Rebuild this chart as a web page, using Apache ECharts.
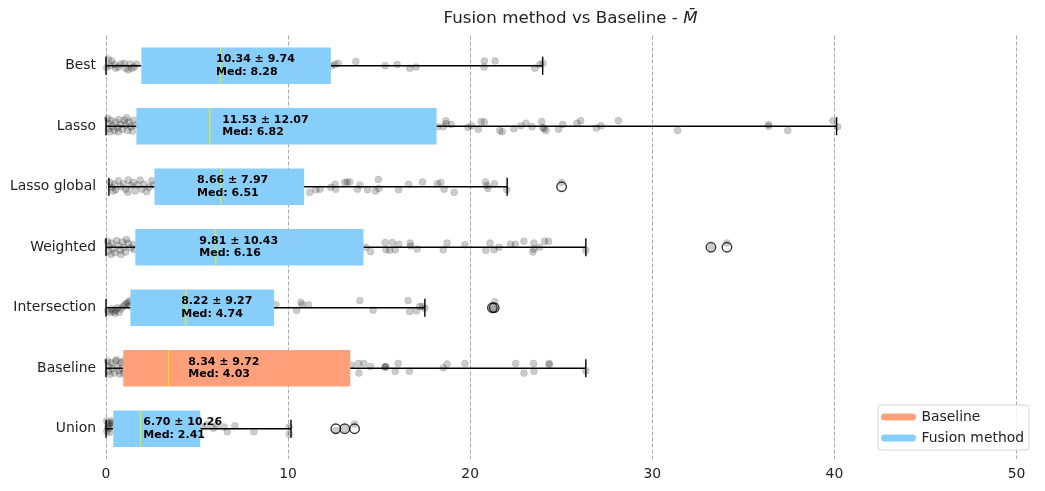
<!DOCTYPE html>
<html><head><meta charset="utf-8">
<script src="https://cdn.jsdelivr.net/npm/echarts@6/dist/echarts.min.js"></script>
<style>html,body{margin:0;padding:0;background:#fff}#c{width:1045px;height:491px}</style>
</head><body><div id="c"></div>
<script>
// ---------- data ----------
const categories = ['Best', 'Lasso', 'Lasso global', 'Weighted', 'Intersection', 'Baseline', 'Union'];
const groups = ['Fusion method', 'Fusion method', 'Fusion method', 'Fusion method', 'Fusion method', 'Baseline', 'Fusion method'];
const whiskerLow  = [0, 0, 0.16, 0, 0, 0, 0];
const q1          = [1.94, 1.67, 2.66, 1.61, 1.34, 0.95, 0.40];
const medianLine  = [6.30, 5.70, 6.30, 6.03, 4.38, 3.44, 1.90];
const q3          = [12.35, 18.15, 10.88, 14.14, 9.23, 13.41, 5.18];
const whiskerHigh = [23.98, 40.12, 22.03, 26.35, 17.51, 26.35, 10.16];
const meanText = ['10.34', '11.53', '8.66', '9.81', '8.22', '8.34', '6.70'];
const stdText  = ['9.74', '12.07', '7.97', '10.43', '9.27', '9.72', '10.26'];
const medText  = ['8.28', '6.82', '6.51', '6.16', '4.74', '4.03', '2.41'];
const labelX   = [6.04, 6.38, 5.00, 5.12, 4.13, 4.52, 2.05];
const xTicks = [0, 10, 20, 30, 40, 50];
// outliers: [value, category index]
const outliers = [[25.02, 2], [33.22, 3], [34.10, 3], [21.22, 4], [21.32, 4], [12.62, 6], [13.11, 6], [13.65, 6]];
// individual observations: [value, vertical jitter in category units]
const ptsBest = [[0.13,-0.11],[0.31,-0.08],[0.22,0],[0.46,-0.02],[0.53,0.04],[0.68,0.02],[0.82,-0.03],[1.0,-0.04],[1.08,0.04],[1.22,0.07],[1.32,-0.03],[1.41,0.04],[1.55,0.02],[1.68,-0.03],[0.04,0.03],
  [12.39,0],[12.57,-0.02],[12.75,-0.04],[13.72,-0.07],[15.33,0],[15.99,-0.02],[16.68,0.04],[17.03,0.02],[20.78,-0.08],[20.76,0.02],[21.37,-0.08],[23.55,0.04],[23.82,-0.02],[24.0,-0.04]];
const ptsLasso = [[0.09,-0.13],[0.16,-0.04],[0.13,0.04],[0.27,-0.10],[0.35,0],[0.46,0.07],[0.53,-0.07],[0.64,0.02],[0.71,-0.11],[0.82,-0.03],[0.90,0.05],[1.00,-0.10],[1.08,-0.02],[1.19,0.07],[1.26,-0.07],[1.37,0.01],[1.50,-0.10],[1.59,-0.02],[0.22,0.09],[0.68,0.09],[1.13,-0.14],[1.45,0.08],
  [18.2,0.01],[18.52,0.01],[18.67,-0.09],[18.67,-0.04],[18.96,-0.03],[19.88,0.02],[20.07,-0.01],[20.45,0.05],[20.6,-0.08],[20.78,-0.07],[21.62,0.07],[21.76,0.09],[22.4,0.04],[22.79,-0.01],[23.07,-0.05],[23.4,0.01],[23.93,-0.08],[23.99,0.02],[24.05,0.04],[24.16,0.07],[24.86,0.05],[25.08,-0.03],[25.86,-0.05],[26.07,-0.09],[26.93,0.03],[27.19,-0.01],[28.14,-0.09],[31.39,0.07],[36.39,-0.03],[36.39,0],[37.44,0.07],[39.92,-0.09],[40.18,0.01]];
const ptsLassoGlobal = [[0.22,-0.07],[0.31,0.01],[0.46,-0.04],[0.53,0.05],[0.68,-0.10],[0.82,0],[0.95,-0.05],[1.08,0.04],[1.22,-0.11],[1.37,-0.02],[1.50,-0.07],[1.59,0.07],[1.74,-0.03],[1.87,-0.11],[1.96,0.04],[2.10,-0.04],[2.23,0.08],[2.36,0.01],[2.51,-0.10],[2.60,-0.03],[0.40,0.07],[1.19,0.09],
  [11.19,0.09],[11.52,0.05],[11.76,0.04],[12.34,0.01],[12.58,-0.04],[12.62,0.04],[13.11,-0.07],[13.24,-0.08],[13.38,-0.08],[13.81,0.04],[13.95,-0.03],[14.36,0.05],[14.80,0.07],[14.96,-0.12],[14.98,0.03],[16.07,0.05],[16.62,-0.04],[17.38,-0.08],[18.20,-0.05],[18.38,-0.07],[18.57,0.04],[19.12,0.09],[20.84,-0.08],[20.92,-0.02],[20.98,0.03],[21.33,-0.05],[22.01,0.05],[25.02,-0.07]];
const ptsWeighted = [[0.09,-0.10],[0.16,-0.02],[0.13,0.07],[0.31,-0.07],[0.40,0.02],[0.49,0.09],[0.59,-0.11],[0.68,-0.03],[0.77,0.05],[0.90,-0.09],[1.00,0],[1.08,0.08],[1.22,-0.07],[1.37,0.01],[1.50,-0.04],[0.27,0.12],[0.82,0.12],[1.13,-0.13],[1.55,0.04],
  [14.26,0],[14.53,0.07],[15.33,-0.08],[15.37,0.04],[15.57,0.05],[15.72,-0.08],[15.88,0.04],[16.07,-0.05],[16.70,-0.07],[16.74,-0.02],[17.09,0.03],[18.52,0.04],[18.73,-0.07],[19.71,-0.04],[20.86,0.05],[21.09,-0.07],[21.31,0.04],[21.58,0],[22.21,-0.05],[22.48,-0.05],[22.95,-0.10],[23.44,0.08],[23.50,-0.07],[23.50,0.03],[23.81,0],[24.08,-0.10],[24.30,-0.10],[26.35,0.05],[33.22,0],[34.10,-0.07]];
const ptsIntersection = [[0.09,0.05],[0.22,0.08],[0.31,0.02],[0.40,0.06],[0.53,0.04],[0.64,0],[0.71,0.08],[0.82,0.02],[0.95,-0.02],[1.04,-0.05],[1.13,-0.07],[1.22,-0.09],[1.30,-0.03],[1.32,-0.12],[0.49,0.09],
  [9.33,-0.05],[10.47,0.04],[10.70,-0.09],[10.78,-0.05],[11.12,-0.05],[13.94,-0.12],[14.67,0.04],[16.59,-0.12],[16.68,0.06],[17.05,0.05],[17.23,-0.02],[17.38,-0.02],[17.51,0.01],[21.35,-0.10],[21.25,0],[21.30,0.02]];
const ptsBaseline = [[0.09,-0.12],[0.16,-0.03],[0.13,0.05],[0.27,-0.09],[0.35,0],[0.46,0.08],[0.53,-0.12],[0.64,-0.03],[0.71,0.04],[0.82,-0.09],[0.90,0],[0.97,0.08],[0.22,0.10],[0.77,0.10],[0.59,-0.14],[0.95,-0.12],
  [13.48,-0.05],[13.87,-0.08],[13.89,0.08],[14.16,-0.08],[14.53,-0.03],[15.33,-0.02],[15.33,-0.02],[15.37,-0.03],[15.88,0.05],[16.05,-0.08],[16.66,0.05],[18.52,-0.01],[18.73,-0.07],[19.71,-0.08],[22.50,-0.08],[22.95,0.08],[23.48,-0.08],[23.50,0.05],[24.32,-0.08],[24.36,-0.06],[26.35,0.04]];
const ptsUnion = [[0.04,-0.13],[0.13,-0.08],[0.09,-0.02],[0.24,-0.10],[0.27,-0.05],[0.35,-0.09],[0.16,0],[0.31,-0.13],[0.05,0.04],[0.20,0.06],
  [5.24,-0.03],[5.55,-0.07],[5.89,-0.01],[6.07,-0.05],[6.48,-0.03],[6.66,0.05],[7.08,-0.05],[8.12,0.05],[10.06,-0.03],[10.06,0.09],[12.62,0.03],[13.11,0],[13.65,-0.08]];
const pointsByCategory = [ptsBest, ptsLasso, ptsLassoGlobal, ptsWeighted, ptsIntersection, ptsBaseline, ptsUnion];

// ---------- build ----------
const colors = { 'Baseline': '#FFA07A', 'Fusion method': '#87CEFA' };
const FONT = '"DejaVu Sans", sans-serif';

const scatterData = [];
pointsByCategory.forEach((arr, i) => arr.forEach(p => scatterData.push([p[0], i + p[1]])));

function boxRows(group) {
  const rows = [];
  categories.forEach((c, i) => {
    if (groups[i] === group) rows.push([i, whiskerLow[i], q1[i], medianLine[i], q3[i], whiskerHigh[i]]);
  });
  return rows;
}

function renderBox(params, api) {
  const i = api.value(0);
  const lo = api.coord([api.value(1), i]);
  const b1 = api.coord([api.value(2), i]);
  const md = api.coord([api.value(3), i]);
  const b3 = api.coord([api.value(4), i]);
  const hi = api.coord([api.value(5), i]);
  const half = Math.abs(api.size([0, 0.3])[1]);
  const cap = Math.abs(api.size([0, 0.15])[1]);
  const ls = { stroke: '#000', lineWidth: 1.4 };
  const y = lo[1];
  return {
    type: 'group',
    children: [
      { type: 'line', shape: { x1: lo[0], y1: y, x2: b1[0], y2: y }, style: ls },
      { type: 'line', shape: { x1: b3[0], y1: y, x2: hi[0], y2: y }, style: ls },
      { type: 'line', shape: { x1: lo[0], y1: y - cap, x2: lo[0], y2: y + cap }, style: ls },
      { type: 'line', shape: { x1: hi[0], y1: y - cap, x2: hi[0], y2: y + cap }, style: ls },
      { type: 'rect', shape: { x: b1[0], y: y - half, width: b3[0] - b1[0], height: 2 * half }, style: { fill: api.visual('color') } },
      { type: 'line', shape: { x1: md[0], y1: y - half, x2: md[0], y2: y + half }, style: { stroke: '#f0f000', lineWidth: 1 } }
    ]
  };
}

const labelData = categories.map((c, i) => [i, labelX[i]]);

const chart = echarts.init(document.getElementById('c'), null, { renderer: 'canvas' });
chart.setOption({
  animation: false,
  backgroundColor: '#fff',
  graphic: [{
    type: 'text', x: 570.5, y: 19, z: 100,
    style: {
      text: 'Fusion method vs Baseline - {m|M\u0304}',
      rich: { m: { fontStyle: 'italic', fontSize: 16.7, fontFamily: FONT, fill: '#222' } },
      fontSize: 16.7, fontFamily: FONT, fill: '#222',
      align: 'center', verticalAlign: 'middle', textAlign: 'center', textVerticalAlign: 'middle'
    }
  }],
  legend: {
    data: ['Baseline', 'Fusion method'],
    orient: 'vertical', right: 16, bottom: 41,
    icon: 'path://M3.5,0 H31.5 A3.5,3.5 0 0 1 31.5,7 H3.5 A3.5,3.5 0 0 1 3.5,0 Z',
    itemWidth: 36, itemHeight: 7, itemGap: 7,
    padding: [5, 5, 5, 3],
    borderColor: '#d5d5d5', borderWidth: 1, borderRadius: 3,
    backgroundColor: 'rgba(255,255,255,0.8)',
    textStyle: { fontSize: 13.9, fontFamily: FONT, color: '#222', lineHeight: 14 }
  },
  grid: { left: 106, right: 28.5, top: 35.5, bottom: 32, containLabel: false },
  xAxis: {
    type: 'value', min: xTicks[0], max: xTicks[xTicks.length - 1], interval: 10,
    axisLine: { show: false }, axisTick: { show: false },
    axisLabel: { margin: 8, fontSize: 13.9, fontFamily: FONT, color: '#222' },
    splitLine: { show: true, lineStyle: { type: [4, 2], color: '#aaaaaa', width: 1 } }
  },
  yAxis: [{
    type: 'category', data: categories, inverse: true,
    axisLine: { show: false }, axisTick: { show: false }, splitLine: { show: false },
    axisLabel: { margin: 10, fontSize: 13.9, fontFamily: FONT, color: '#222' }
  }, {
    type: 'value', min: -0.5, max: 6.5, inverse: true, show: false,
    splitLine: { show: false }
  }],
  series: [
    {
      type: 'scatter', name: 'points', yAxisIndex: 1, z: 1,
      symbolSize: 7, data: scatterData, silent: true,
      itemStyle: { color: 'rgba(0,0,0,0.2)', borderColor: 'rgba(0,0,0,0.12)', borderWidth: 0.8, opacity: 1 }
    },
    {
      type: 'custom', name: 'Fusion method', yAxisIndex: 1, z: 2,
      itemStyle: { color: colors['Fusion method'] },
      encode: { x: [1, 2, 3, 4, 5], y: 0 },
      renderItem: renderBox, data: boxRows('Fusion method')
    },
    {
      type: 'custom', name: 'Baseline', yAxisIndex: 1, z: 2,
      itemStyle: { color: colors['Baseline'] },
      encode: { x: [1, 2, 3, 4, 5], y: 0 },
      renderItem: renderBox, data: boxRows('Baseline')
    },
    {
      type: 'scatter', name: 'outliers', yAxisIndex: 1, z: 3, silent: true,
      symbol: 'circle', symbolSize: 9.5, data: outliers,
      itemStyle: { color: 'rgba(0,0,0,0)', borderColor: '#000', borderWidth: 1.4 }
    },
    {
      type: 'custom', name: 'labels', yAxisIndex: 1, z: 4, silent: true,
      encode: { x: 1, y: 0 },
      data: labelData,
      renderItem: function (params, api) {
        const i = api.value(0);
        const p = api.coord([api.value(1), i]);
        return {
          type: 'text',
          style: {
            x: p[0], y: p[1],
            text: meanText[i] + ' \u00b1 ' + stdText[i] + '\nMed: ' + medText[i],
            fill: '#000', fontSize: 11, fontWeight: 'bold', fontFamily: FONT, lineHeight: 12.5,
            align: 'left', verticalAlign: 'middle', textAlign: 'left', textVerticalAlign: 'middle'
          }
        };
      }
    }
  ]
});
</script>
</body></html>
